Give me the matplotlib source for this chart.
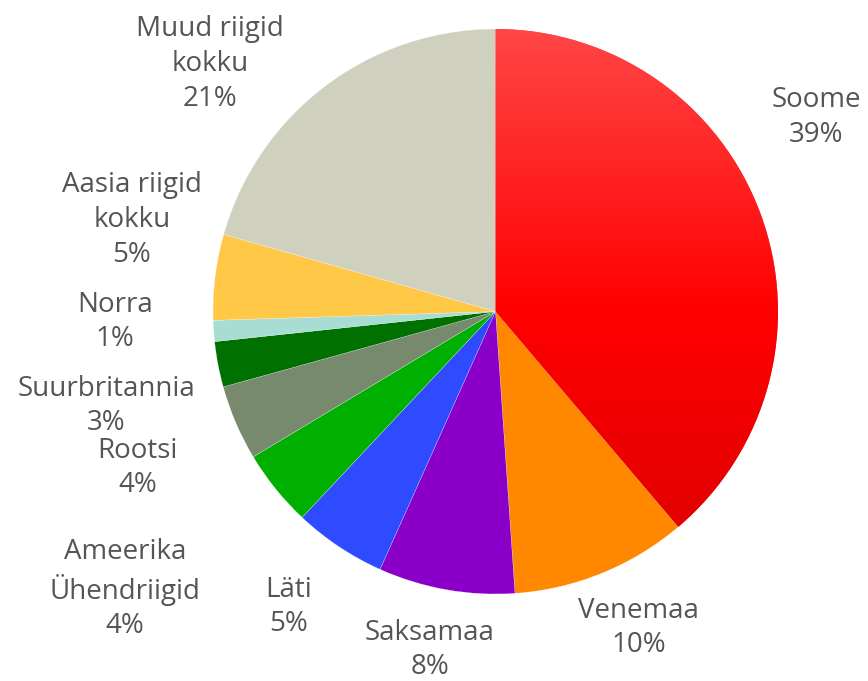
import numpy as np
import matplotlib
matplotlib.use('Agg')
import matplotlib.pyplot as plt
from matplotlib.colors import LinearSegmentedColormap

# Share of each country
countries = ['Soome', 'Venemaa', 'Saksamaa', 'Läti', 'Ameerika\nÜhendriigid',
             'Rootsi', 'Suurbritannia', 'Norra', 'Aasia riigid\nkokku', 'Muud riigid\nkokku']
shares = [38.8, 10.1, 7.8, 5.3, 4.4, 4.3, 2.6, 1.2, 4.9, 20.6]

colors = ['#ff2020', '#ff8800', '#8a00c8', '#2f4bff', '#00b000',
          '#778a6e', '#007000', '#a8ddd4', '#ffc847', '#d0d0bf']

# label anchor points (pie radius units)
label_pos = [(1.135, 0.687), (0.507, -1.12), (-0.232, -1.198), (-0.731, -1.046),
             (-1.312, -0.982), (-1.266, -0.554), (-1.378, -0.335), (-1.347, -0.037),
             (-1.287, 0.324), (-1.011, 0.876)]

W, H = 868, 681
cx, cy, r = 495.5, 311.5, 282.5

fig = plt.figure(figsize=(W / 100, H / 100), dpi=100)
ax = fig.add_axes([(cx - r) / W, (H - cy - r) / H, 2 * r / W, 2 * r / H])

wedges, _ = ax.pie(shares, colors=colors, startangle=90, counterclock=False,
                   radius=1, wedgeprops=dict(linewidth=0.15, edgecolor='white'))

# red gradient for the biggest slice
cmap = LinearSegmentedColormap.from_list('red', ['#ff4646', '#ff0000', '#da0000'])
grad = np.linspace(0, 1, 256).reshape(-1, 1)
img = ax.imshow(grad, cmap=cmap, extent=(-1, 1, -1, 1), origin='upper',
                aspect='auto', zorder=wedges[0].get_zorder() + 0.1)
img.set_clip_path(wedges[0])

for name, val, (x, y) in zip(countries, shares, label_pos):
    ax.text(x, y, f'{name}\n{round(val)}%', ha='center', va='center',
            fontsize=20, color='#555555', family='Open Sans',
            linespacing=1.32, clip_on=False)

ax.set_xlim(-1, 1)
ax.set_ylim(-1, 1)
ax.set_aspect('equal')
ax.axis('off')

fig.savefig('out.png', dpi=100)
